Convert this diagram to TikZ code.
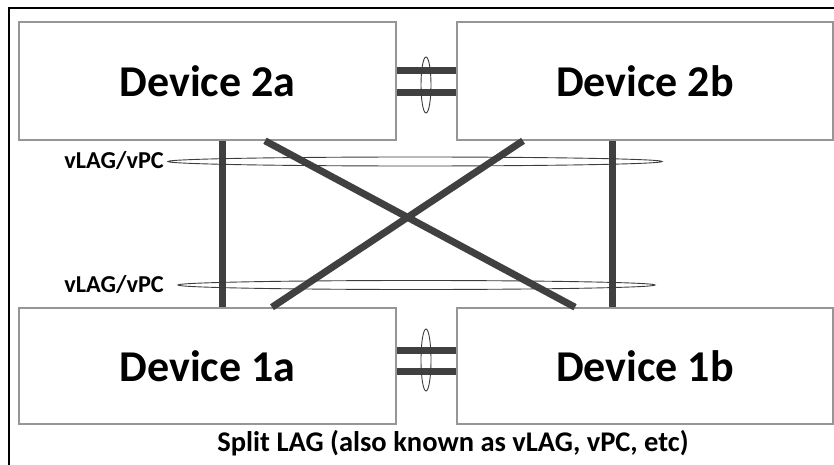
\documentclass[tikz,border=0pt]{standalone}
\usepackage{fontspec}
\setmainfont{Carlito}
\usetikzlibrary{calc}
\definecolor{boxgray}{RGB}{150,150,150}
\definecolor{linkgray}{RGB}{64,64,64}
\definecolor{ringgray}{RGB}{60,60,60}
\begin{document}
\begin{tikzpicture}[x=1pt,y=-1pt,
  devbox/.style={draw=boxgray,line width=1.6pt,fill=white,minimum width=377pt,inner sep=0pt,font=\bfseries\fontsize{44}{50}\selectfont},
  link/.style={draw=linkgray,line width=7pt},
  ring/.style={draw=ringgray,line width=0.9pt},
  lbl/.style={font=\bfseries\fontsize{24.3}{28}\selectfont,inner sep=0pt}]
\useasboundingbox (0,0) rectangle (834,465);
\draw[line width=1.5pt] (9,465) -- (9,8) -- (834,8);
\node[devbox,minimum height=118pt] (d2a) at (207.5,81) {Device 2a};
\node[devbox,minimum width=376pt,minimum height=118pt] (d2b) at (645,81) {Device 2b};
\node[devbox,minimum height=116pt] (d1a) at (207.5,366) {Device 1a};
\node[devbox,minimum width=376pt,minimum height=116pt] (d1b) at (645,366) {Device 1b};
% horizontal links
\draw[link] ($(d2a.east)+(0,-10)$) -- ($(d2b.west)+(0,-10)$);
\draw[link] ($(d2a.east)+(0,11.5)$) -- ($(d2b.west)+(0,11.5)$);
\draw[link] ($(d1a.east)+(0,-16)$) -- ($(d1b.west)+(0,-16)$);
\draw[link] ($(d1a.east)+(0,5)$) -- ($(d1b.west)+(0,5)$);
% vertical and diagonal links
\draw[link] ($(d2a.south)+(14.5,0)$) -- ($(d1a.north)+(14.5,0)$);
\draw[link] ($(d2b.south)+(-33,0)$) -- ($(d1b.north)+(-33,0)$);
\draw[link] ($(d2a.south)+(57.5,0)$) -- ($(d1b.north)+(-70,0)$);
\draw[link] ($(d2b.south)+(-122,0)$) -- ($(d1a.north)+(64.5,0)$);
% bundling rings
\draw[ring] (426,85) ellipse [x radius=5, y radius=28];
\draw[ring] (426,360) ellipse [x radius=5, y radius=31];
\draw[ring] (415,161.5) ellipse [x radius=247, y radius=4.5];
\draw[ring] (416.5,285) ellipse [x radius=238.5, y radius=4.5];
% labels
\node[lbl,anchor=east] (l1) at (164,161) {vLAG/vPC};
\node[lbl,anchor=east] (l2) at (164,285) {vLAG/vPC};
\node[lbl,font=\bfseries\fontsize{28.5}{32}\selectfont] (cap) at (453,443) {Split LAG (also known as vLAG, vPC, etc)};
\end{tikzpicture}
\end{document}
